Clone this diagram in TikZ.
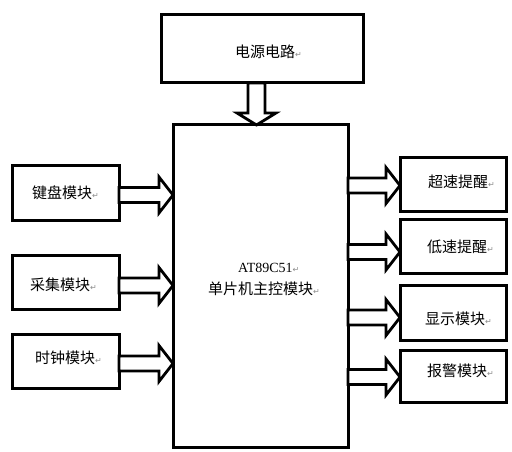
\documentclass[tikz,border=0pt]{standalone}
\usepackage{fontspec}
\usetikzlibrary{calc}
\newfontfamily\cjk{Noto Sans CJK SC}
\newfontfamily\symf{DejaVu Sans}
\newfontfamily\latf{Liberation Serif}
\newcommand\ret{{\symf\fontsize{8}{8}\selectfont\textcolor{black!45}{↵}}}
\newcommand\harrow[2]{\draw[blk] let \p1=(#1), \p2=(#2) in
  (\x1,\y2+7.5pt) -- (\x2-14pt,\y2+7.5pt) -- (\x2-14pt,\y2+18pt) -- (\x2,\y2) --
  (\x2-14pt,\y2-18pt) -- (\x2-14pt,\y2-7.5pt) -- (\x1,\y2-7.5pt) -- cycle;}
\newcommand\varrow[2]{\draw[blk] let \p1=(#1), \p2=(#2) in
  (\x2-8.5pt,\y1) -- (\x2-8.5pt,\y2+12pt) -- (\x2-19.5pt,\y2+12pt) -- (\x2,\y2) --
  (\x2+19.5pt,\y2+12pt) -- (\x2+8.5pt,\y2+12pt) -- (\x2+8.5pt,\y1) -- cycle;}
\begin{document}
\begin{tikzpicture}[x=1pt,y=-1pt,
  box/.style={draw=black,line width=3pt,fill=white,inner sep=0pt,outer sep=0pt},
  blk/.style={draw=black,line width=2.8pt,fill=white,line join=miter},
  txt/.style={inner sep=0pt,anchor=west,font=\cjk\fontsize{15}{18}\selectfont}]
\useasboundingbox[fill=white] (0,0) rectangle (512,452);
% boxes
\node[box,minimum width=202pt,minimum height=68pt] (power) at (262,49) {};
\node[box,minimum width=175pt,minimum height=322pt] (mcu) at (260.5,286) {};
\node[box,minimum width=107pt,minimum height=55pt] (kb) at (65.5,192.5) {};
\node[box,minimum width=107pt,minimum height=54pt] (cj) at (65.5,282) {};
\node[box,minimum width=107pt,minimum height=54pt] (clk) at (65.5,361) {};
\node[box,minimum width=106pt,minimum height=54pt] (cs) at (453,184) {};
\node[box,minimum width=106pt,minimum height=54pt] (ds) at (453,246) {};
\node[box,minimum width=106pt,minimum height=55pt] (xs) at (453,312.5) {};
\node[box,minimum width=106pt,minimum height=52pt] (bj) at (453,376) {};
% texts
\node[txt] (tpower) at (235,52) {电源电路\ret};
\node[txt] (tkb) at (32,193) {键盘模块\ret};
\node[txt] (tcj) at (30,285) {采集模块\ret};
\node[txt] (tclk) at (35,358) {时钟模块\ret};
\node[txt] (tcs) at (428,182) {超速提醒\ret};
\node[txt] (tds) at (427,247) {低速提醒\ret};
\node[txt] (txs) at (425,319) {显示模块\ret};
\node[txt] (tbj) at (427,371) {报警模块\ret};
\node[txt,font=\latf\fontsize{14}{16}\selectfont] (tat) at (238,268) {AT89C51\ret};
\node[txt] (tmcu) at (208,289) {单片机主控模块\ret};
% arrows
\varrow{power.south -| 256.5,0}{mcu.north -| 256.5,0}
\harrow{kb.east}{mcu.west |- 0,195}
\harrow{cj.east}{mcu.west |- 0,285.5}
\harrow{clk.east}{mcu.west |- 0,363.5}
\harrow{mcu.east}{cs.west |- 0,185.5}
\harrow{mcu.east}{ds.west |- 0,252}
\harrow{mcu.east}{xs.west |- 0,317.5}
\harrow{mcu.east}{bj.west |- 0,377}
\end{tikzpicture}
\end{document}
